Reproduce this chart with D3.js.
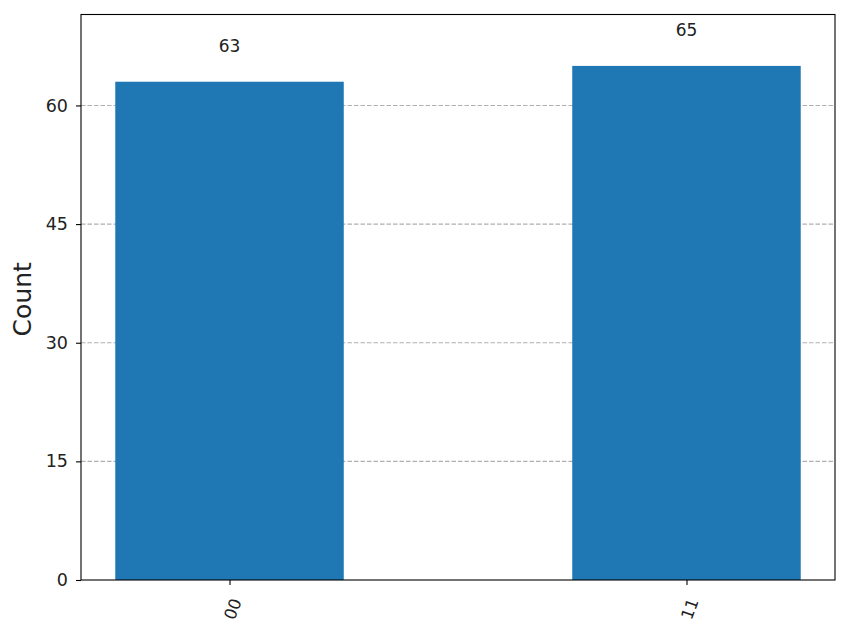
<!DOCTYPE html>
<html>
<head>
<meta charset="utf-8">
<script src="https://cdn.jsdelivr.net/npm/d3@7"></script>
<style>
  html, body { margin: 0; padding: 0; background: #ffffff; }
  svg { display: block; font-family: "DejaVu Sans", sans-serif; }
</style>
</head>
<body>
<svg id="chart" width="847" height="625"></svg>
<script>
// ---- data ----
const categories = ["00", "11"];
const counts = [63, 65];
const xPositions = [0, 1];
const yTicks = [0, 15, 30, 45, 60];
const yLabel = "Count";

// ---- layout ----
const plotLeft = 81, plotRight = 835, plotTop = 14.5, plotBottom = 580;
const barWidth = 0.5;
const barColor = "#1f77b4";

const svg = d3.select("#chart");

const x = d3.scaleLinear().domain([-0.325, 1.325]).range([plotLeft, plotRight]);
const yMax = d3.max(counts) * 1.1;
const y = d3.scaleLinear().domain([0, yMax]).range([plotBottom, plotTop]);

// grid
svg.append("g").selectAll("line")
  .data(yTicks.filter(d => d > 0))
  .join("line")
  .attr("x1", plotLeft).attr("x2", plotRight)
  .attr("y1", d => y(d)).attr("y2", d => y(d))
  .attr("stroke", "#b0b0b0")
  .attr("stroke-width", 1.1)
  .attr("stroke-dasharray", "4.5,2");

// bars
svg.append("g").selectAll("rect")
  .data(counts)
  .join("rect")
  .attr("x", (d, i) => x(xPositions[i] - barWidth / 2))
  .attr("width", (d, i) => x(xPositions[i] + barWidth / 2) - x(xPositions[i] - barWidth / 2))
  .attr("y", d => y(d))
  .attr("height", d => y(0) - y(d))
  .attr("fill", barColor);

// bar value labels
svg.append("g").selectAll("text")
  .data(counts)
  .join("text")
  .attr("x", (d, i) => x(xPositions[i]))
  .attr("y", d => y(d) - 30)
  .attr("text-anchor", "middle")
  .attr("font-size", "17px")
  .attr("fill", "#222")
  .text(d => d);

// y axis
const yAxis = d3.axisLeft(y).tickValues(yTicks).tickSize(5).tickPadding(8);
const gy = svg.append("g").attr("transform", `translate(${plotLeft},0)`).call(yAxis);
gy.select(".domain").remove();
gy.selectAll(".tick line").attr("stroke", "#000").attr("stroke-width", 1.1);
gy.selectAll(".tick text").attr("font-size", "17.5px").attr("fill", "#222")
  .attr("font-family", "DejaVu Sans, sans-serif");

// x axis
const xAxis = d3.axisBottom(x).tickValues(xPositions).tickFormat((d, i) => categories[i]).tickSize(5);
const gx = svg.append("g").attr("transform", `translate(0,${plotBottom})`).call(xAxis);
gx.select(".domain").remove();
gx.selectAll(".tick line").attr("stroke", "#000").attr("stroke-width", 1.1);
gx.selectAll(".tick text")
  .attr("font-size", "16.5px").attr("fill", "#222")
  .attr("font-family", "DejaVu Sans, sans-serif")
  .attr("text-anchor", "middle")
  .attr("dominant-baseline", "central")
  .attr("dy", null)
  .attr("y", null)
  .attr("transform", "translate(3,29) rotate(-70)");

// frame
svg.append("rect")
  .attr("x", plotLeft).attr("y", plotTop)
  .attr("width", plotRight - plotLeft).attr("height", plotBottom - plotTop)
  .attr("fill", "none").attr("stroke", "#000").attr("stroke-width", 1.1);

// y label
svg.append("text")
  .attr("transform", `translate(31,${(plotTop + plotBottom) / 2 + 2}) rotate(-90)`)
  .attr("text-anchor", "middle")
  .attr("font-size", "25px")
  .attr("fill", "#222")
  .text(yLabel);
</script>
</body>
</html>
